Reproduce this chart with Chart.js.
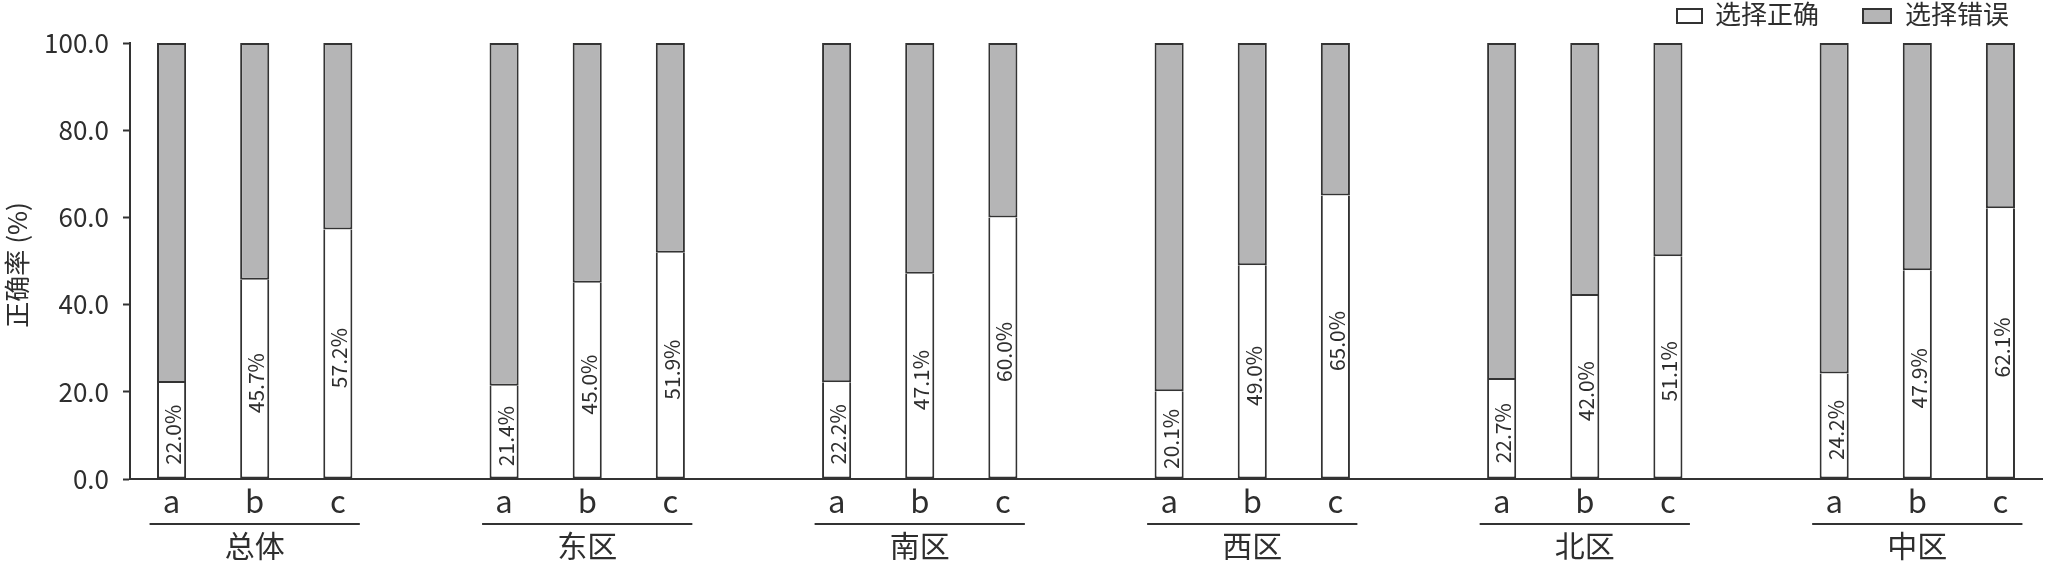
<!DOCTYPE html>
<html>
<head>
<meta charset="utf-8">
<script src="https://cdn.jsdelivr.net/npm/chart.js@4.4.1/dist/chart.umd.min.js"></script>
<style>
  html, body { margin: 0; padding: 0; background: #fff; }
  #wrap { width: 2046px; height: 563px; position: relative; }
</style>
</head>
<body>
<div id="wrap"><canvas id="c" width="2046" height="563"></canvas></div>
<script>
const groups = ['总体', '东区', '南区', '西区', '北区', '中区'];
const options3 = ['a', 'b', 'c'];
const correct = [22.0, 45.7, 57.2, 21.4, 45.0, 51.9, 22.2, 47.1, 60.0, 20.1, 49.0, 65.0, 22.7, 42.0, 51.1, 24.2, 47.9, 62.1];
const wrong   = [78.0, 54.3, 42.8, 78.6, 55.0, 48.1, 77.8, 52.9, 40.0, 79.9, 51.0, 35.0, 77.3, 58.0, 48.9, 75.8, 52.1, 37.9];
const yTicks = [0, 20, 40, 60, 80, 100];
const seriesNames = ['选择正确', '选择错误'];
const yTitle = '正确率 (%)';

const FONT = '"Noto Sans CJK SC", "Noto Sans", sans-serif';
const TXT = '#2e2e2e';
const EDGE = '#333333';
const GRAY = '#b5b5b6';

const labels = [];
const dCorrect = [];
const dWrong = [];
const groupSlots = [];
groups.forEach((g, gi) => {
  const start = labels.length;
  options3.forEach((o, oi) => {
    labels.push(o);
    dCorrect.push(correct[gi * 3 + oi]);
    dWrong.push(wrong[gi * 3 + oi]);
  });
  groupSlots.push([start, start + 2]);
  if (gi < groups.length - 1) {
    labels.push('');
    dCorrect.push(null);
    dWrong.push(null);
  }
});

const barLabelPlugin = {
  id: 'barLabels',
  afterDatasetsDraw(chart) {
    const ctx = chart.ctx;
    const meta = chart.getDatasetMeta(0);
    ctx.save();
    ctx.fillStyle = TXT;
    ctx.font = '21px ' + FONT;
    ctx.textAlign = 'center';
    ctx.textBaseline = 'middle';
    meta.data.forEach((bar, i) => {
      const v = dCorrect[i];
      if (v == null) return;
      const cy = (bar.y + bar.base) / 2 + 4;
      ctx.save();
      ctx.translate(bar.x + 1.5, cy);
      ctx.rotate(-Math.PI / 2);
      ctx.fillText(v.toFixed(1) + '%', 0, 0);
      ctx.restore();
    });
    ctx.restore();
  }
};

const groupLabelPlugin = {
  id: 'groupLabels',
  afterDraw(chart) {
    const ctx = chart.ctx;
    const xs = chart.scales.x;
    ctx.save();
    ctx.strokeStyle = EDGE;
    ctx.lineWidth = 2;
    ctx.fillStyle = TXT;
    ctx.font = '30px ' + FONT;
    ctx.textAlign = 'center';
    ctx.textBaseline = 'middle';
    groupSlots.forEach(([s, e], gi) => {
      const x1 = xs.getPixelForValue(s);
      const x2 = xs.getPixelForValue(e);
      ctx.beginPath();
      ctx.moveTo(x1 - 22, 524);
      ctx.lineTo(x2 + 22, 524);
      ctx.stroke();
      ctx.fillText(groups[gi], (x1 + x2) / 2, 546);
    });
    // y-axis title
    ctx.font = '26px ' + FONT;
    ctx.save();
    ctx.translate(17, 265);
    ctx.rotate(-Math.PI / 2);
    ctx.fillText(yTitle, 0, 0);
    ctx.restore();
    ctx.restore();
  }
};

const legendPlugin = {
  id: 'customLegend',
  afterDraw(chart) {
    const ctx = chart.ctx;
    ctx.save();
    ctx.lineWidth = 2;
    ctx.strokeStyle = EDGE;
    ctx.font = '26px ' + FONT;
    ctx.textAlign = 'left';
    ctx.textBaseline = 'middle';
    ctx.fillStyle = '#ffffff';
    ctx.fillRect(1677, 9, 25, 14);
    ctx.strokeRect(1677, 9, 25, 14);
    ctx.fillStyle = TXT;
    ctx.fillText(seriesNames[0], 1715, 14);
    ctx.fillStyle = GRAY;
    ctx.fillRect(1863, 9, 28, 14);
    ctx.strokeRect(1863, 9, 28, 14);
    ctx.fillStyle = TXT;
    ctx.fillText(seriesNames[1], 1905, 14);
    ctx.restore();
  }
};

new Chart(document.getElementById('c'), {
  type: 'bar',
  data: {
    labels: labels,
    datasets: [
      {
        label: seriesNames[0],
        data: dCorrect,
        backgroundColor: '#ffffff',
        borderColor: EDGE,
        borderWidth: 2,
        borderSkipped: 'top',
        categoryPercentage: 1.0,
        barPercentage: 0.35
      },
      {
        label: seriesNames[1],
        data: dWrong,
        backgroundColor: GRAY,
        borderColor: EDGE,
        borderWidth: 2,
        borderSkipped: false,
        categoryPercentage: 1.0,
        barPercentage: 0.35
      }
    ]
  },
  options: {
    responsive: false,
    animation: false,
    devicePixelRatio: 1,
    layout: { padding: { top: 43, right: 4, left: 4, bottom: 0 } },
    plugins: {
      legend: { display: false },
      tooltip: { enabled: false }
    },
    scales: {
      x: {
        stacked: true,
        offset: true,
        grid: { display: false, drawTicks: false },
        border: { display: true, color: EDGE, width: 2 },
        ticks: {
          color: TXT,
          font: { family: FONT, size: 31 },
          padding: 4,
          autoSkip: false,
          maxRotation: 0
        },
        afterFit(scale) { scale.height = 84; }
      },
      y: {
        stacked: true,
        min: 0,
        max: 100,
        afterBuildTicks(scale) { scale.ticks = yTicks.map(v => ({ value: v })); },
        grid: { drawOnChartArea: false, drawTicks: true, tickLength: 7, tickColor: EDGE, tickWidth: 2 },
        border: { display: true, color: EDGE, width: 2 },
        ticks: {
          color: TXT,
          font: { family: FONT, size: 26 },
          padding: 14,
          callback: v => Number(v).toFixed(1)
        },
        title: { display: false },
        afterFit(scale) { scale.width = 126; }
      }
    }
  },
  plugins: [barLabelPlugin, groupLabelPlugin, legendPlugin]
});
</script>
</body>
</html>
